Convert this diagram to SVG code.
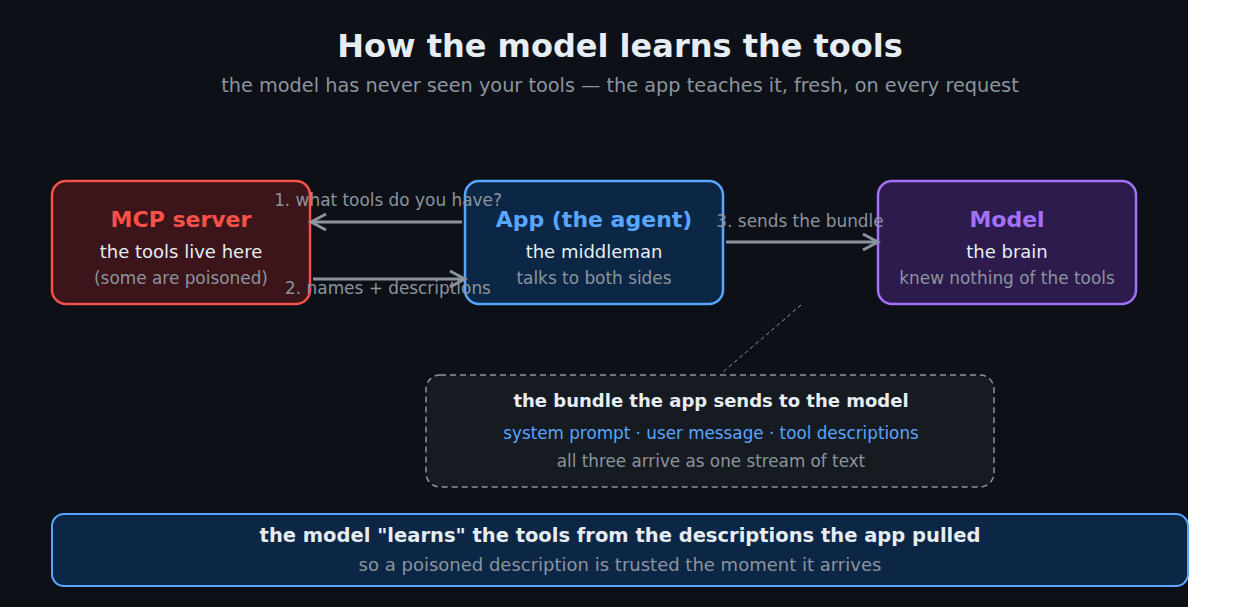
<svg xmlns="http://www.w3.org/2000/svg" width="1240" height="607" viewBox="0 0 1240 607">
<style>
text{font-family:"DejaVu Sans","Liberation Sans",sans-serif;text-anchor:middle}
.title{font-size:32px;font-weight:bold;fill:#e6edf3}
.sub{font-size:19.3px;fill:#8b949e}
.head{font-size:22px;font-weight:bold}
.l2{font-size:18px;fill:#e6edf3}
.l3{font-size:16.9px;fill:#8b949e}
.lab{font-size:16.9px;fill:#8b949e}
.conn{stroke:#8b949e;stroke-width:3;fill:none}
.bh{font-size:18px;font-weight:bold;fill:#e6edf3}
</style>
<defs>
<marker id="arr" viewBox="0 0 20 20" refX="17" refY="10" markerWidth="20" markerHeight="20" markerUnits="userSpaceOnUse" orient="auto">
<path d="M2,2 L17,10 L2,18" fill="none" stroke="#8b949e" stroke-width="3"/>
</marker>
</defs>
<rect x="0" y="0" width="1188" height="607" fill="#0d1117"/>
<rect x="1188" y="0" width="52" height="607" fill="#ffffff"/>
<text class="title" x="620" y="57">How the model learns the tools</text>
<text class="sub" x="620" y="92">the model has never seen your tools — the app teaches it, fresh, on every request</text>

<g id="mcp">
<rect x="52" y="181" width="258" height="123" rx="14" fill="#3b1519" stroke="#f85149" stroke-width="2.5"/>
<text class="head" x="181" y="227" fill="#f85149">MCP server</text>
<text class="l2" x="181" y="258">the tools live here</text>
<text class="l3" x="181" y="284">(some are poisoned)</text>
</g>
<g id="app">
<rect x="465" y="181" width="258" height="123" rx="14" fill="#0c2645" stroke="#58a6ff" stroke-width="2.5"/>
<text class="head" x="594" y="227" fill="#58a6ff">App (the agent)</text>
<text class="l2" x="594" y="258">the middleman</text>
<text class="l3" x="594" y="284">talks to both sides</text>
</g>
<g id="model">
<rect x="878" y="181" width="258" height="123" rx="14" fill="#2d1b4e" stroke="#a371f7" stroke-width="2.5"/>
<text class="head" x="1007" y="227" fill="#a371f7">Model</text>
<text class="l2" x="1007" y="258">the brain</text>
<text class="l3" x="1007" y="284">knew nothing of the tools</text>
</g>

<g id="connectors">
<line class="conn" x1="462" y1="222" x2="311" y2="222" marker-end="url(#arr)"/>
<line class="conn" x1="313" y1="279" x2="465" y2="279" marker-end="url(#arr)"/>
<line class="conn" x1="726" y1="242" x2="878" y2="242" marker-end="url(#arr)"/>
<line x1="801" y1="305" x2="723" y2="372" stroke="#8b949e" stroke-width="1" stroke-dasharray="4,3"/>
<text class="lab" x="388" y="206">1. what tools do you have?</text>
<text class="lab" x="388" y="294">2. names + descriptions</text>
<text class="lab" x="800" y="227">3. sends the bundle</text>
</g>

<g id="bundle">
<rect x="426" y="375" width="568" height="112" rx="14" fill="#161b22" stroke="#8b949e" stroke-width="1.5" stroke-dasharray="6,4"/>
<text class="bh" x="711" y="407">the bundle the app sends to the model</text>
<text x="711" y="439" style="font-size:16.8px;fill:#58a6ff">system prompt · user message · tool descriptions</text>
<text x="711" y="467" style="font-size:16.8px;fill:#8b949e">all three arrive as one stream of text</text>
</g>

<g id="summary">
<rect x="52" y="514" width="1136" height="72" rx="12" fill="#0c2645" stroke="#58a6ff" stroke-width="2"/>
<text x="620" y="542" style="font-size:19.5px;font-weight:bold;fill:#e6edf3">the model "learns" the tools from the descriptions the app pulled</text>
<text x="620" y="571" style="font-size:18px;fill:#8b949e">so a poisoned description is trusted the moment it arrives</text>
</g>
</svg>
